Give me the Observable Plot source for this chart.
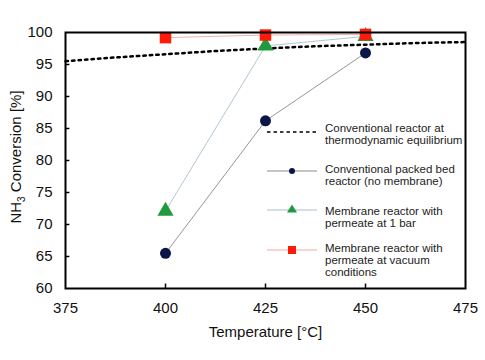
<!DOCTYPE html>
<html><head><meta charset="utf-8">
<script src="https://cdn.jsdelivr.net/npm/d3@7"></script>
<script src="https://cdn.jsdelivr.net/npm/@observablehq/plot@0.6"></script>
<style>
body{margin:0;background:#fff;font-family:"Liberation Sans",Arial,sans-serif;}
#wrap{position:relative;width:485px;height:360px;}
#legend{position:absolute;left:265px;top:0;font-size:11.5px;color:#222;line-height:12px;}
.item{position:absolute;left:0;width:220px;}
.item svg{position:absolute;left:0;}
.item div{position:absolute;left:60px;top:0;white-space:nowrap;}
</style></head>
<body><div id="wrap"></div>
<script>
const eqT = [375, 387.5, 400, 412.5, 425, 437.5, 450, 462.5, 475];
const eqConv = [95.5, 96.1, 96.6, 97.1, 97.5, 97.85, 98.1, 98.35, 98.5];
const temps = [400, 425, 450];
const convPBR = [65.5, 86.2, 96.8];
const memb1bar = [72.1, 97.9, 99.4];
const membVac = [99.2, 99.6, 99.7];
const xTicks = [375, 400, 425, 450, 475];
const yTicks = [60, 65, 70, 75, 80, 85, 90, 95, 100];
const legendLabels = ["Conventional reactor at<br>thermodynamic equilibrium","Conventional packed bed<br>reactor (no membrane)","Membrane reactor with<br>permeate at 1 bar","Membrane reactor with<br>permeate at vacuum<br>conditions"];

const eq = eqT.map((t,i)=>({t, v: eqConv[i]}));
const pbr = temps.map((t,i)=>({t, v: convPBR[i]}));
const m1 = temps.map((t,i)=>({t, v: memb1bar[i]}));
const mv = temps.map((t,i)=>({t, v: membVac[i]}));

const cNavy="#0b1648", cGreen="#1f9a3c", cRed="#ff1a0a";
const lGray="#8a8a8a", lBlue="#a9bfcc", lRed="#f2a99e";

const plot = Plot.plot({
  width: 485, height: 360,
  marginLeft: 65, marginRight: 20, marginTop: 32, marginBottom: 72,
  style: {fontFamily: '"Liberation Sans", Arial, sans-serif', fontSize: "15px", color: "#111", background: "#fff"},
  x: {domain: [375, 475], ticks: xTicks},
  y: {domain: [60, 100], ticks: yTicks, label: null},
  marks: [
    Plot.axisX({ticks: xTicks, tickSize: 0, tickPadding: 14, fontSize: 15, label: "Temperature [°C]", labelAnchor: "center", labelOffset: 48, labelArrow: "none"}),
    Plot.axisY({ticks: yTicks, tickSize: 0, tickPadding: 13, fontSize: 15, label: null}),
    Plot.ruleX(xTicks.slice(1,-1), {x: d=>d, y1: 60, y2: 60.7, stroke: "#000", strokeWidth: 1.5}),
    Plot.ruleY(yTicks.slice(1,-1), {y: d=>d, x1: 375, x2: 376.1, stroke: "#000", strokeWidth: 1.5}),
    Plot.line(pbr, {x: "t", y: "v", stroke: lGray, strokeWidth: 0.9}),
    Plot.line(m1, {x: "t", y: "v", stroke: lBlue, strokeWidth: 0.9}),
    Plot.line(mv, {x: "t", y: "v", stroke: lRed, strokeWidth: 0.9}),
    Plot.line(eq, {x: "t", y: "v", stroke: "#000", strokeWidth: 2.5, strokeDasharray: "2.5,4", curve: "natural"}),
    Plot.dot(pbr, {x: "t", y: "v", r: 5.5, fill: cNavy, stroke: "none"}),
    Plot.dot(m1, {x: "t", y: "v", symbol: "triangle", r: 6, fill: cGreen, stroke: "none"}),
    Plot.dot(mv, {x: "t", y: "v", symbol: "square", r: 6.5, fill: cRed, stroke: "none"}),
    Plot.frame({stroke: "#000", strokeWidth: 2})
  ]
});
const wrap = document.getElementById("wrap");
wrap.appendChild(plot);

// y-axis label with subscript
const svg = d3.select(plot);
const yl = svg.append("text")
  .attr("transform", "translate(21,157) rotate(-90)")
  .attr("text-anchor", "middle")
  .attr("font-size", 15).attr("fill", "#111");
yl.append("tspan").text("NH");
yl.append("tspan").attr("font-size", 10).attr("dy", 4).text("3");
yl.append("tspan").attr("dy", -4).text(" Conversion [%]");

// legend
const leg = document.createElement("div");
leg.id = "legend";
const tops = [121.5, 163, 205, 241.5];
const sampleY = [10.5, 8, 5, 8.5];
const kinds = ["eq","pbr","m1","mv"];
kinds.forEach((k,i)=>{
  const it = document.createElement("div");
  it.className = "item"; it.style.top = tops[i]+"px";
  let s = `<svg width="55" height="16" style="top:${sampleY[i]-8}px">`;
  if (k==="eq") s += `<line x1="2" x2="52" y1="8" y2="8" stroke="#000" stroke-width="1.5" stroke-dasharray="3.5,3"/>`;
  if (k==="pbr") s += `<line x1="2" x2="52" y1="8" y2="8" stroke="${lGray}" stroke-width="1"/><circle cx="27" cy="8" r="3" fill="${cNavy}"/>`;
  if (k==="m1") s += `<line x1="2" x2="52" y1="8" y2="8" stroke="${lBlue}" stroke-width="1"/><path d="M27,2.5 L32,10.5 L22,10.5Z" fill="${cGreen}"/>`;
  if (k==="mv") s += `<line x1="2" x2="52" y1="8" y2="8" stroke="${lRed}" stroke-width="1"/><rect x="23" y="4" width="8" height="8" fill="${cRed}"/>`;
  s += `</svg><div>${legendLabels[i]}</div>`;
  it.innerHTML = s;
  leg.appendChild(it);
});
wrap.appendChild(leg);
</script></body></html>
